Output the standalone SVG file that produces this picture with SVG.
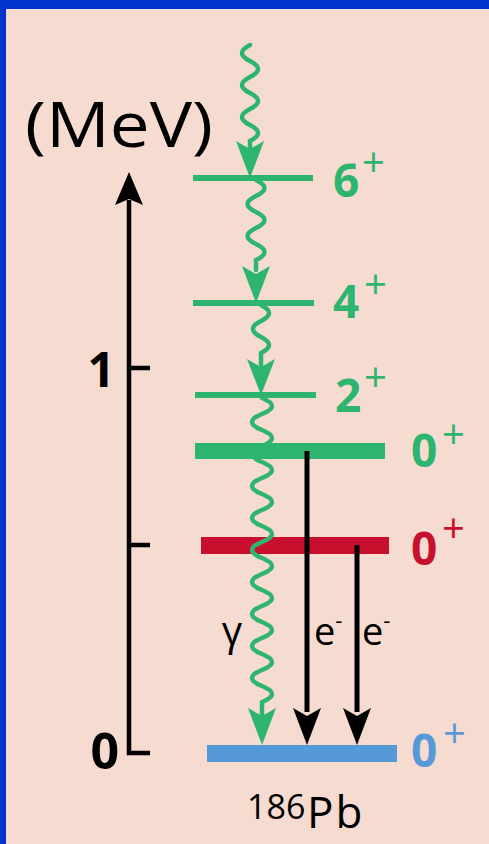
<svg xmlns="http://www.w3.org/2000/svg" width="489" height="844" viewBox="0 0 489 844">
<style>
.bg{fill:#f6dbd1}
.g{fill:#2db56f}
.r{fill:#c8102e}
.b{fill:#5599d6}
.k{fill:#000}
.wave{fill:none;stroke:#2db56f;stroke-width:4.5;stroke-linecap:round}
.lbl{font-family:"Open Sans","Liberation Sans",Arial,sans-serif;font-weight:bold;font-size:46px}
.pl{font-family:"Open Sans","Liberation Sans",Arial,sans-serif;font-weight:normal;font-size:40px}
.txt{font-family:"Open Sans","Liberation Sans",Arial,sans-serif;fill:#000}
.axis{stroke:#000;stroke-width:4.5;fill:none}
.earr{stroke:#000;stroke-width:5}
</style>
<rect x="0" y="0" width="489" height="844" fill="#0033cc"/>
<rect class="bg" x="6" y="9" width="483" height="835"/>

<g id="axis">
  <path class="axis" d="M129,200 V753 H150 M129,368 H150 M129,545 H150"/>
  <polygon class="k" points="115,205 129,172 143,205 129,199"/>
  <text class="txt" x="25" y="147" font-size="62" textLength="188" lengthAdjust="spacingAndGlyphs">(MeV)</text>
  <text class="txt" x="115" y="387" font-size="48" font-weight="bold" text-anchor="end">1</text>
  <text class="txt" x="119" y="769" font-size="50" font-weight="bold" text-anchor="end">0</text>
</g>

<g id="level-6">
  <rect class="g" x="193" y="175" width="120" height="6"/>
  <text class="lbl g" x="333" y="197">6</text>
  <text class="pl g" x="362" y="177">+</text>
</g>
<g id="level-4">
  <rect class="g" x="193" y="300" width="121" height="6"/>
  <text class="lbl g" x="333" y="318">4</text>
  <text class="pl g" x="364" y="299">+</text>
</g>
<g id="level-2">
  <rect class="g" x="195" y="392" width="121" height="6"/>
  <text class="lbl g" x="335" y="412">2</text>
  <text class="pl g" x="364" y="392">+</text>
</g>
<g id="level-0-green">
  <rect class="g" x="195" y="443" width="190" height="16"/>
  <text class="lbl g" x="411" y="467">0</text>
  <text class="pl g" x="442" y="449">+</text>
</g>
<g id="level-0-red">
  <rect class="r" x="201" y="537" width="188" height="17"/>
  <text class="lbl r" x="411" y="565">0</text>
  <text class="pl r" x="442" y="543">+</text>
</g>
<g id="level-0-blue">
  <rect class="b" x="207" y="745" width="190" height="17"/>
  <text class="lbl b" x="411" y="767">0</text>
  <text class="pl b" x="443" y="748">+</text>
  <text class="txt" x="247" y="819" font-size="34">186</text>
  <text class="txt" x="307" y="828" font-size="44" letter-spacing="2">Pb</text>
</g>

<g id="connectors">
  <line class="earr" x1="307" y1="451" x2="307" y2="712"/>
  <polygon class="k" points="293,708 307,745 321,708 307,716"/>
  <line class="earr" x1="357" y1="545" x2="357" y2="712"/>
  <polygon class="k" points="343,708 357,745 371,708 357,716"/>

  <path class="wave" d="M250,45 c-10.7,5.3 -10.7,10.7 0,16 s10.7,10.7 0,16 s-10.7,10.7 0,16 s10.7,10.7 0,16 s-10.7,10.7 0,16 s10.7,10.7 0,16 v10"/>
  <polygon class="g" points="236,141 250,178 264,141 250,149"/>
  <path class="wave" d="M256,180 c11.3,5.3 11.3,10.7 0,16 s-11.3,10.7 0,16 s11.3,10.7 0,16 s-11.3,10.7 0,16 s11.3,10.7 0,16 v10"/>
  <polygon class="g" points="242,266 256,303 270,266 256,274"/>
  <path class="wave" d="M261,305 c10.7,5.3 10.7,10.7 0,16 s-10.7,10.7 0,16 s10.7,10.7 0,16 v12"/>
  <polygon class="g" points="247,359 261,395 275,359 261,367"/>
  <path class="wave" d="M262,398 c13.3,5.3 13.3,10.7 0,16 s-13.3,10.7 0,16 s13.3,10.7 0,16 s-13.3,10.7 0,16 s13.3,10.7 0,16 s-13.3,10.7 0,16 s13.3,10.7 0,16 s-13.3,10.7 0,16 s13.3,10.7 0,16 s-13.3,10.7 0,16 s13.3,10.7 0,16 s-13.3,10.7 0,16 s13.3,10.7 0,16 s-13.3,10.7 0,16 s13.3,10.7 0,16 s-13.3,10.7 0,16 s13.3,10.7 0,16 s-13.3,10.7 0,16 s13.3,10.7 0,16 v12"/>
  <polygon class="g" points="248,708 262,745 276,708 262,716"/>

  <text class="txt" x="232" y="645" font-size="40" text-anchor="middle">γ</text>
  <text class="txt" x="314" y="645" font-size="38">e<tspan font-size="22" dy="-17">-</tspan></text>
  <text class="txt" x="362" y="645" font-size="38">e<tspan font-size="22" dy="-17">-</tspan></text>
</g>
</svg>
